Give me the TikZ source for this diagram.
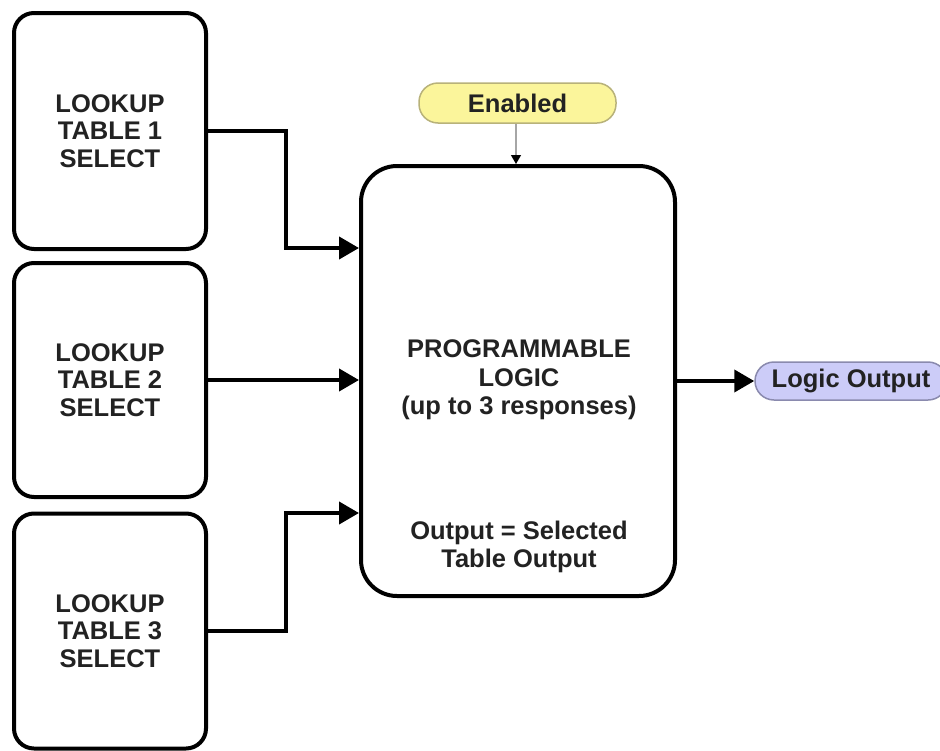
\documentclass[tikz,border=0pt]{standalone}
\usepackage{fontspec}
\setmainfont{Liberation Sans}
\usetikzlibrary{arrows.meta}
\definecolor{txt}{HTML}{222222}
\definecolor{yelfill}{HTML}{FBF59B}
\definecolor{yeldraw}{HTML}{B8B27A}
\definecolor{lavfill}{HTML}{CCCCF8}
\definecolor{lavdraw}{HTML}{8A8AAE}
\tikzset{
  blockbox/.style={draw=black, line width=4pt, rounded corners=20pt, fill=white,
    align=center, text=txt, font=\bfseries\fontsize{25.5}{27.5}\selectfont, inner sep=0pt},
  pill/.style={draw, line width=1.5pt, rounded corners=19pt, align=center, text=txt,
    font=\bfseries\fontsize{25.5}{27.5}\selectfont, inner sep=0pt},
  conn/.style={line width=4pt, -{Triangle[length=20pt,width=22pt]}},
  thinconn/.style={line width=1.3pt, draw=gray!70, -{Triangle[length=9pt,width=10pt,fill=black,color=black]}}
}
\begin{document}
\begin{tikzpicture}[x=1pt,y=-1pt]
\useasboundingbox (0,0) rectangle (940,750);
\node[blockbox, minimum width=192pt, minimum height=236pt] (box1) at (110,131) {LOOKUP\\TABLE 1\\SELECT};
\node[blockbox, minimum width=192pt, minimum height=234pt] (box2) at (110,380) {LOOKUP\\TABLE 2\\SELECT};
\node[blockbox, minimum width=192pt, minimum height=235pt] (box3) at (110,631) {LOOKUP\\TABLE 3\\SELECT};
\node[blockbox, rounded corners=36pt, minimum width=314pt, minimum height=430pt] (main) at (518,381) {};
\node[text=txt, font=\bfseries\fontsize{25.5}{28.5}\selectfont, align=center] (mtext) at (519,380) {PROGRAMMABLE\\LOGIC\\(up to 3 responses)};
\node[text=txt, font=\bfseries\fontsize{25.5}{28}\selectfont, align=center] (otext) at (519,547) {Output = Selected\\Table Output};
\node[pill, draw=yeldraw, fill=yelfill, minimum width=197pt, minimum height=40pt] (enabled) at (517.5,103) {Enabled};
\node[pill, draw=lavdraw, fill=lavfill, minimum width=192pt, minimum height=38pt] (logout) at (851,381) {Logic Output};
\coordinate (in1) at (main.west |- 0,248);
\coordinate (in3) at (main.west |- 0,513);
\draw[conn] (box1.east) -- ++(78,0) |- (in1);
\draw[conn] (box2.east) -- (box2.east -| main.west);
\draw[conn] (box3.east) -- ++(78,0) |- (in3);
\draw[thinconn] (enabled.south -| 516,0) -- (main.north -| 516,0);
\draw[conn] (main.east) -- (logout.west);
\end{tikzpicture}
\end{document}
